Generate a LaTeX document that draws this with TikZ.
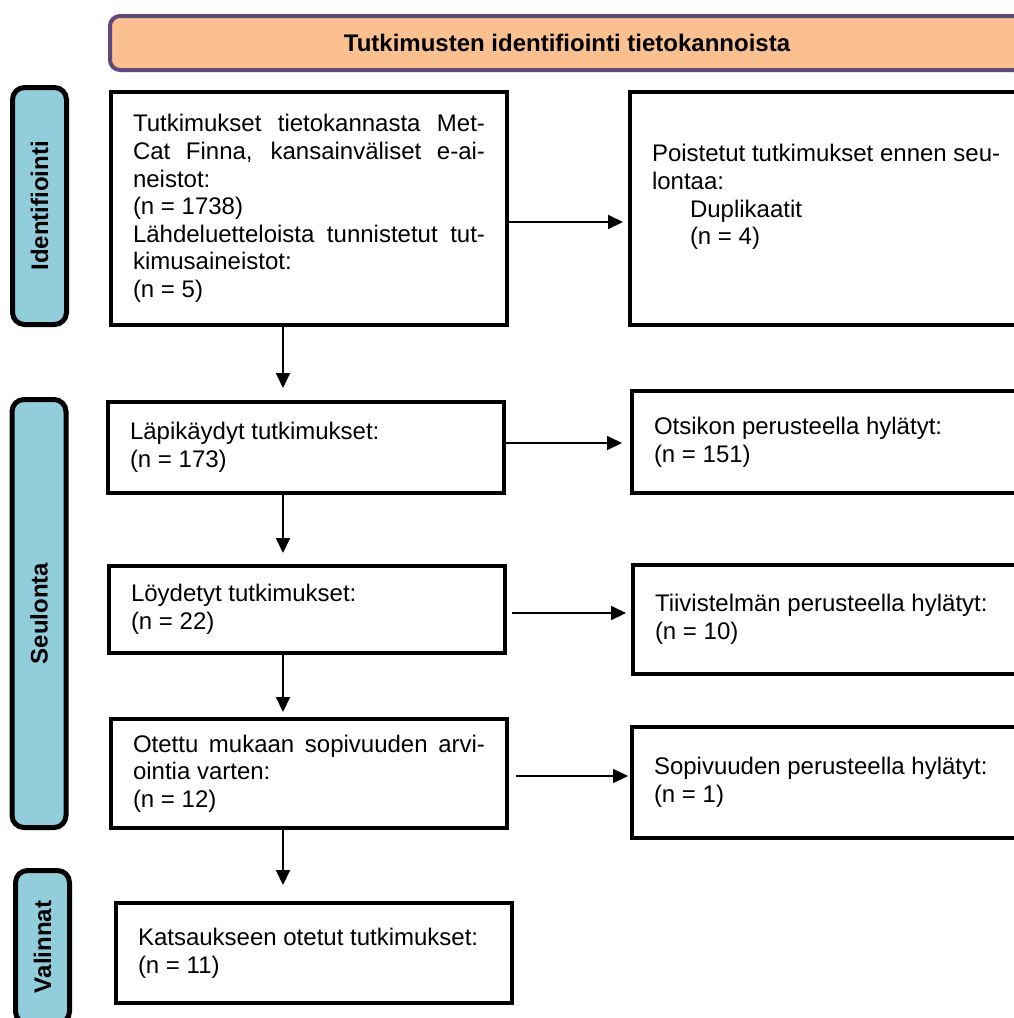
\documentclass[tikz,border=0pt]{standalone}
\usepackage{fontspec}
\setmainfont{Liberation Sans}
\usetikzlibrary{arrows.meta}
\definecolor{headfill}{HTML}{FAC090}
\definecolor{headline}{HTML}{5F497A}
\definecolor{stagefill}{HTML}{92CDDC}
\begin{document}
\begin{tikzpicture}[x=1pt,y=-1pt,
  font=\fontsize{24}{27.6}\selectfont,
  box/.style={draw,line width=4pt,anchor=north west,minimum width=396pt,text width=352pt,inner xsep=22pt,align=justify},
  stage/.style={draw,line width=5pt,rounded corners=12pt,fill=stagefill,rotate=90,minimum height=54pt,font=\fontsize{24}{27.6}\selectfont\bfseries},
  arr/.style={line width=2pt,-{Triangle[length=15pt,width=14pt]}}]

  \useasboundingbox (0,0) rectangle (1014,1018);
  \clip (0,0) rectangle (1014,1018);

  \node[draw=headline,line width=4pt,rounded corners=10pt,fill=headfill,minimum width=914pt,minimum height=54pt,font=\fontsize{24}{27.6}\selectfont\bfseries] (head) at (567,43) {Tutkimusten identifiointi tietokannoista};

  \node[stage,minimum width=237pt] (ident) at (39.5,206) {Identifiointi};
  \node[stage,minimum width=428pt] (screen) at (39,613.5) {Seulonta};
  \node[stage,minimum width=153pt] (incl) at (42.5,947) {Valinnat};

  \node[box,minimum height=233pt] (records) at (109,90) {Tutkimukset tietokannasta Met-\linebreak Cat Finna, kansainväliset e-ai-\linebreak neistot:\\ (n = 1738)\\ Lähdeluetteloista tunnistetut tut-\linebreak kimusaineistot:\\ (n = 5)};
  \node[box,minimum height=233pt] (dupl) at (628,90) {Poistetut tutkimukset ennen seu-\\ lontaa:\\ \hspace*{38pt}Duplikaatit\\ \hspace*{38pt}(n = 4)\\ \mbox{}};
  \node[box,minimum height=91pt] (screened) at (106,400) {Läpikäydyt tutkimukset:\\ (n = 173)};
  \node[box,minimum height=102pt] (extitle) at (630,389) {Otsikon perusteella hylätyt:\\ (n = 151)};
  \node[box,minimum height=87pt] (found) at (107,564) {Löydetyt tutkimukset:\\ (n = 22)};
  \node[box,minimum height=109pt] (exabs) at (631,563) {Tiivistelmän perusteella hylätyt:\\ (n = 10)};
  \node[box,minimum height=109pt] (elig) at (109,717) {Otettu mukaan sopivuuden arvi-\linebreak ointia varten:\\ (n = 12)};
  \node[box,minimum height=111pt] (exelig) at (630,725) {Sopivuuden perusteella hylätyt:\\ (n = 1)};
  \node[box,minimum height=100pt] (review) at (114,901) {Katsaukseen otetut tutkimukset:\\ (n = 11)};

  \coordinate (ax) at (283,0);
  \coordinate (h1) at (0,222);
  \coordinate (h2) at (0,443);
  \coordinate (h3) at (0,613);
  \coordinate (h4) at (0,776);

  \draw[arr,shorten >=12pt] (records.south -| ax) -- (screened.north -| ax);
  \draw[arr,shorten >=11pt] (screened.south -| ax) -- (found.north -| ax);
  \draw[arr,shorten >=5pt] (found.south -| ax) -- (elig.north -| ax);
  \draw[arr,shorten >=16pt] (elig.south -| ax) -- (review.north -| ax);

  \draw[arr,shorten >=5pt] (records.east |- h1) -- (dupl.west |- h1);
  \draw[arr,shorten >=8pt] (screened.east |- h2) -- (extitle.west |- h2);
  \draw[arr,shorten <=5pt,shorten >=5pt] (found.east |- h3) -- (exabs.west |- h3);
  \draw[arr,shorten <=7pt,shorten >=2pt] (elig.east |- h4) -- (exelig.west |- h4);
\end{tikzpicture}
\end{document}
